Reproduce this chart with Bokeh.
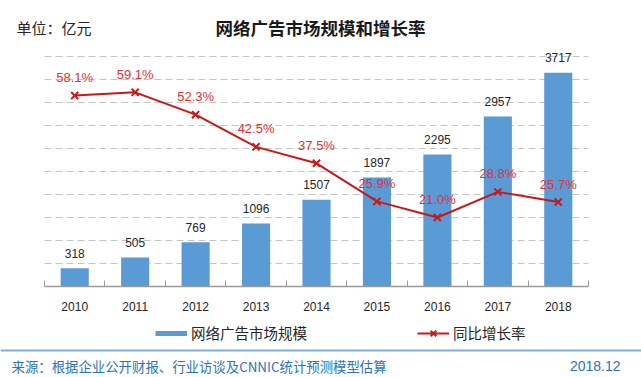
from bokeh.plotting import figure
from bokeh.layouts import column
from bokeh.models import (Range1d, LinearAxis, FixedTicker, Label, Legend,
                          LegendItem, ColumnDataSource, Span)
from bokeh.core.properties import value
from bokeh.embed import file_html
from bokeh.resources import INLINE

# ---- data ----
years = ["2010", "2011", "2012", "2013", "2014", "2015", "2016", "2017", "2018"]
market_scale = [318, 505, 769, 1096, 1507, 1897, 2295, 2957, 3717]
growth_rate = [58.1, 59.1, 52.3, 42.5, 37.5, 25.9, 21.0, 28.8, 25.7]
y_ticks = [0, 400, 800, 1200, 1600, 2000, 2400, 2800, 3200, 3600, 4000]
pct_top = 70
scale_top = 4000

# ---- layout constants ----
W, H = 641, 377
H_MAIN = 318
H_BOT = H - H_MAIN
AX_Y = 286            # canvas y of the category axis
PLOT_L, PLOT_R = 44, 588
grid_px = 230         # pixels from axis to top gridline
n = len(years)
cat_w = (PLOT_R - PLOT_L) / n
x_start = -PLOT_L / cat_w
x_end = n + (W - PLOT_R) / cat_w
y_max = scale_top * AX_Y / grid_px
pct_max = pct_top * AX_Y / grid_px

BAR_C = "#5B9BD5"
RED = "#C81818"
cjk = "Noto Sans CJK SC"

xs = [i + 0.5 for i in range(n)]
src = ColumnDataSource(dict(
    x=xs, scale=market_scale, growth=growth_rate,
    sl=[str(v) for v in market_scale],
    gl=[f"{g:.1f}%" for g in growth_rate],
))

p = figure(width=W, height=H_MAIN, output_backend="svg", toolbar_location=None,
           x_range=Range1d(x_start, x_end), y_range=Range1d(0, y_max),
           x_axis_type=None, y_axis_type=None,
           min_border_left=0, min_border_right=0, min_border_top=0,
           min_border_bottom=H_MAIN - AX_Y, outline_line_color=None,
           background_fill_color="white", border_fill_color="white")
p.extra_y_ranges = {"pct": Range1d(0, pct_max)}

# dashed horizontal grid lines, spanning only the category area
p.segment(x0=[0] * len(y_ticks), x1=[n] * len(y_ticks), y0=y_ticks, y1=y_ticks,
          line_color="#c4c4c4", line_dash="7 4", line_width=1)

p.vbar(x="x", top="scale", width=0.465, source=src,
       fill_color=BAR_C, line_color=None)
p.text(x="x", y="scale", text="sl", source=src, text_align="center",
       text_baseline="middle", y_offset=-15, text_font=value("Liberation Sans"),
       text_font_size="12px", text_color="#262626")

p.line(x="x", y="growth", y_range_name="pct", source=src,
       line_color=RED, line_width=2)
p.scatter(x="x", y="growth", y_range_name="pct", source=src, marker="x",
          size=10, line_color=RED, line_width=2)
p.text(x="x", y="growth", text="gl", y_range_name="pct", source=src,
       text_align="center", text_baseline="middle", y_offset=-18,
       text_font=value("Liberation Sans"), text_font_size="13px",
       text_color="#E0303A")

xaxis = LinearAxis(
    ticker=FixedTicker(ticks=xs, minor_ticks=list(range(n + 1))),
    bounds=(0, n),
    major_label_overrides={x: y for x, y in zip(xs, years)},
    axis_line_color="#9a9a9a", axis_line_width=1.5,
    major_tick_line_color=None, major_tick_in=0, major_tick_out=0,
    minor_tick_in=6, minor_tick_out=0, minor_tick_line_color="#9a9a9a",
    major_label_standoff=15, major_label_text_font="Liberation Sans",
    major_label_text_font_size="12px", major_label_text_color="#262626")
p.add_layout(xaxis, "below")

def lab(fig, base, text, cx, cy, **kw):
    fig.add_layout(Label(x=cx, y=base - cy, x_units="screen", y_units="screen",
                         text=text, text_baseline="middle", **kw))

lab(p, AX_Y, "单位：亿元", 16, 27, text_font=cjk, text_font_size="15px",
    text_color="#262626")
lab(p, AX_Y, "网络广告市场规模和增长率", 320, 27, text_font=cjk,
    text_font_size="17.5px", text_font_style="bold", text_align="center",
    text_color="#1a1a1a")

# ---- legend + footer strip ----
f = figure(width=W, height=H_BOT, output_backend="svg", toolbar_location=None,
           x_range=Range1d(0, W), y_range=Range1d(0, H_BOT),
           x_axis_type=None, y_axis_type=None, min_border=0,
           outline_line_color=None, background_fill_color="white",
           border_fill_color="white")

# hidden copies of the series, used only for the legend swatches
bar_key = f.line(x="x", y="scale", source=src, line_color=BAR_C, line_width=5,
                 visible=False)
line_key = f.line(x="x", y="growth", source=src, line_color=RED, line_width=2,
                  visible=False)
mark_key = f.scatter(x="x", y="growth", source=src, marker="x", line_color=RED,
                     line_width=2, visible=False)
legend = Legend(items=[LegendItem(label="网络广告市场规模", renderers=[bar_key]),
                       LegendItem(label="同比增长率", renderers=[line_key, mark_key])],
                orientation="horizontal", location=(155, H - 343),
                glyph_width=32, glyph_height=20, label_standoff=4, spacing=110,
                label_text_font=cjk, label_text_font_size="14.5px",
                label_text_color="#262626", padding=0, margin=0,
                border_line_color=None, background_fill_alpha=0, label_height=20)
f.add_layout(legend)

f.add_layout(Span(location=H - 350, dimension="width", line_color="#7FAEDD",
                  line_width=2))
lab(f, H, "来源：根据企业公开财报、行业访谈及CNNIC统计预测模型估算", 11, 365,
    text_font=cjk, text_font_size="13.4px", text_color="#2E74B5")
lab(f, H, "2018.12", 620, 365, text_font="Liberation Sans",
    text_font_size="14px", text_color="#2E74B5", text_align="right")

layout = column(p, f, spacing=0)
open("out.html", "w").write(file_html(layout, INLINE))
